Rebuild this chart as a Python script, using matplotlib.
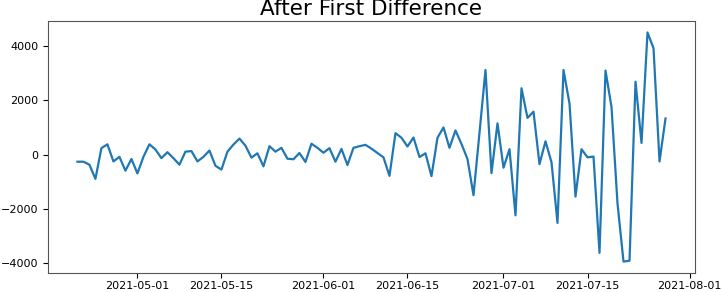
import numpy as np
import pandas as pd
import matplotlib
matplotlib.use("Agg")
import matplotlib.pyplot as plt

# first difference, one value per day
start_date = "2021-04-21"
diff_values = [
    -260, -260, -370, -890, 240, 380, -250, -80, -590, -160,
    -690, -80, 380, 190, -130, 90, -130, -370, 110, 130,
    -250, -80, 150, -410, -550, 110, 370, 590, 330, -110,
    50, -430, 310, 110, 250, -150, -170, 60, -270, 400,
    250, 70, 240, -260, 210, -380, 250, 310, 360, 220,
    60, -100, -780, 790, 620, 300, 630, -90, 50, -790,
    620, 1000, 250, 890, 390, -160, -1490, 800, 3110, -680,
    1150, -480, 200, -2230, 2440, 1350, 1580, -350, 490, -280,
    -2510, 3110, 1880, -1540, 200, -100, -70, -3610, 3090, 1750,
    -1800, -3930, -3900, 2680, 430, 4490, 3910, -250, 1330,
]
dates = pd.date_range(start_date, periods=len(diff_values), freq="D")
series = pd.Series(diff_values, index=dates)

fig = plt.figure(figsize=(7.22, 2.92), dpi=100)
ax = fig.add_axes([0.0665, 0.065, 0.896, 0.863])
ax.plot(series.index, series.values, color="#1f77b4", linewidth=1.6)
ax.set_title("After First Difference", fontsize=15.5, pad=4)
ax.tick_params(labelsize=8)
ax.tick_params(axis="x", pad=2.5)
for s in ax.spines.values():
    s.set_color("#555555")

fig.savefig("out.png", dpi=100)
